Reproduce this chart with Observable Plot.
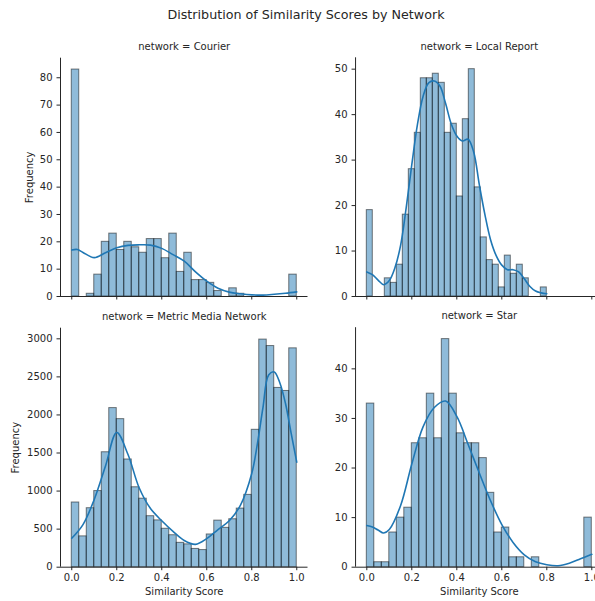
<!DOCTYPE html>
<html><head><meta charset="utf-8">
<script src="https://cdn.jsdelivr.net/npm/d3@7"></script>
<script src="https://cdn.jsdelivr.net/npm/@observablehq/plot@0.6"></script>
<style>
body{margin:0;background:#fff;}
#fig{position:relative;width:595px;height:601px;overflow:hidden;font-family:"DejaVu Sans",sans-serif;color:#262626;background:#fff;}
#title{position:absolute;left:0;width:612px;top:8px;line-height:14px;text-align:center;font-size:12.7px;white-space:nowrap;}
.panel{position:absolute;}
</style></head><body>
<div id="fig"><div id="title">Distribution of Similarity Scores by Network</div></div>
<script>
// ---- data ----
const networks = ["Courier", "Local Report", "Metric Media Network", "Star"];
const binCount = 30;
const courierRange = [0, 1];
const localReportRange = [0, 0.8];
const metricRange = [0, 1];
const starRange = [0, 1];

const courierCounts = [83,0,1,8,20,23,17,20,18,16,21,21,14,23,9,16,6,6,5,2,0,3,1,0,0,0,0,0,0,8];
const localReportCounts = [19,0,0,4,3,7,18,28,36,48,48,49,47,36,38,22,39,50,24,13,8,7,2,9,5,7,4,0,0,2];
const metricCounts = [850,405,775,1000,1510,2090,1945,1415,1050,900,670,615,505,420,320,300,240,225,430,612,517,630,770,950,1805,2990,2905,2355,2315,2875];
const starCounts = [33,1,1,7,10,12,25,26,35,26,46,35,27,25,25,22,15,7,8,2,2,0,2,0,0,0,0,0,0,10];

const courierKdeX = [0,0.025,0.05,0.1,0.15,0.2,0.25,0.3,0.35,0.4,0.45,0.5,0.55,0.6,0.65,0.7,0.75,0.8,0.85,0.9,0.95,1.0];
const courierKde  = [17.0,17.2,16.1,14.2,16.0,17.8,18.7,18.9,18.8,17.6,15.3,12.9,9.0,5.6,3.0,1.6,1.0,0.6,0.5,0.8,1.2,1.7];

const localReportKdeX = [0,0.025,0.05,0.075,0.1,0.125,0.15,0.175,0.2,0.225,0.25,0.275,0.3,0.325,0.35,0.375,0.4,0.425,0.45,0.475,0.5,0.525,0.55,0.575,0.6,0.625,0.65,0.675,0.7,0.725,0.75,0.775,0.8];
const localReportKde  = [5.4,4.8,3.6,2.6,3.5,6.3,11.2,19.5,29,37.8,44,47,47.4,46.3,42.5,38,35.3,34.2,34.6,31.8,24.6,18,12.5,9,6.9,5.9,5.9,5.4,3.9,2.2,1.2,0.8,0.6];

const metricKdeX = [0,0.05,0.1,0.15,0.2,0.25,0.3,0.35,0.4,0.45,0.5,0.55,0.6,0.65,0.7,0.75,0.8,0.825,0.85,0.875,0.9,0.925,0.95,0.975,1.0];
const metricKde  = [381,560,890,1330,1770,1480,1040,770,610,470,350,300,375,495,610,815,1230,1620,2100,2525,2565,2420,2150,1760,1380];

const starKdeX = [0,0.025,0.05,0.075,0.1,0.15,0.2,0.25,0.3,0.35,0.4,0.45,0.5,0.55,0.6,0.65,0.7,0.75,0.8,0.85,0.9,0.95,1.0];
const starKde  = [8.4,8.1,7.5,6.9,7.6,12.4,20.8,28.3,32.2,33.5,30.4,24.8,19.0,13.4,8.6,5.0,2.5,1.1,0.5,0.3,0.8,1.7,2.6];

const xTicks = [0, 0.2, 0.4, 0.6, 0.8, 1.0];
const xDomain = [-0.05, 1.05];
const courierYTicks = [0,10,20,30,40,50,60,70,80];
const localReportYTicks = [0,10,20,30,40,50];
const metricYTicks = [0,500,1000,1500,2000,2500,3000];
const starYTicks = [0,10,20,30,40];

const xLabel = "Similarity Score";
const yLabel = "Frequency";

// ---- drawing ----
const fig = document.getElementById("fig");
const blue = "#1f77b4";
const ink = "#262626";
const fs = 10;

function makeBins(counts, range) {
  const w = (range[1] - range[0]) / counts.length;
  return counts.map((c, i) => ({x1: range[0] + i * w, x2: range[0] + (i + 1) * w, count: c}));
}

function panel(o) {
  const bins = makeBins(o.counts, o.range);
  const kde = o.kdeX.map((x, i) => ({x, y: o.kdeY[i]}));
  const yTop = d3.max(o.counts) * 1.05;
  const marks = [
    Plot.rectY(bins, {x1: "x1", x2: "x2", y1: 0, y2: "count", fill: blue, fillOpacity: 0.5,
      stroke: "#000", strokeOpacity: 0.5, strokeWidth: 1}),
    Plot.line(kde, {x: "x", y: "y", stroke: blue, strokeWidth: 1.6, curve: "catmull-rom"}),
    Plot.ruleX([xDomain[0]], {stroke: ink, strokeWidth: 1}),
    Plot.ruleY([0], {stroke: ink, strokeWidth: 1}),
    Plot.axisX({ticks: xTicks, tickSize: 3.5, tickPadding: 3.5, label: null,
      tickFormat: o.xLabels ? (d => d.toFixed(1)) : (() => "")}),
    Plot.axisY({ticks: o.yTicks, tickSize: 3.5, tickPadding: 4.5, label: null, tickFormat: d3.format("d")}),
    Plot.text([`network = ${o.name}`], {text: d => d, frameAnchor: "top", lineAnchor: "middle", dy: -11.5, fill: ink, fontSize: fs})
  ];
  if (o.yLabel) marks.push(Plot.text([yLabel], {text: d => d, frameAnchor: "left", rotate: -90,
    textAnchor: "middle", lineAnchor: "middle", dx: o.yLabelDx, fill: ink, fontSize: fs}));
  if (o.xLabels) marks.push(Plot.text([xLabel], {text: d => d, frameAnchor: "bottom",
    lineAnchor: "middle", dy: 25, fill: ink, fontSize: fs}));
  const svg = Plot.plot({
    width: o.width, height: o.height,
    marginLeft: o.mL, marginRight: o.mR, marginTop: o.mT, marginBottom: o.mB,
    x: {domain: xDomain},
    y: {domain: [0, yTop]},
    style: {fontFamily: "DejaVu Sans, sans-serif", fontSize: fs + "px", color: ink,
      background: "none", overflow: "visible", maxWidth: "none"},
    marks
  });
  svg.classList.add("panel");
  svg.style.left = o.left + "px";
  svg.style.top = o.top + "px";
  fig.appendChild(svg);
}

panel({name: networks[0], counts: courierCounts, range: courierRange, kdeX: courierKdeX, kdeY: courierKde,
  yTicks: courierYTicks, left: 0, top: 25, width: 310, height: 280, mL: 60, mR: 2.5, mT: 32.7, mB: 9,
  xLabels: false, yLabel: true, yLabelDx: -31});
panel({name: networks[1], counts: localReportCounts, range: localReportRange, kdeX: localReportKdeX, kdeY: localReportKde,
  yTicks: localReportYTicks, left: 300, top: 25, width: 305, height: 280, mL: 55.05, mR: 2.45, mT: 32.3, mB: 9,
  xLabels: false, yLabel: false});
panel({name: networks[2], counts: metricCounts, range: metricRange, kdeX: metricKdeX, kdeY: metricKde,
  yTicks: metricYTicks, left: 0, top: 305, width: 310, height: 296, mL: 60, mR: 2.5, mT: 22.7, mB: 34.3,
  xLabels: true, yLabel: true, yLabelDx: -45});
panel({name: networks[3], counts: starCounts, range: starRange, kdeX: starKdeX, kdeY: starKde,
  yTicks: starYTicks, left: 300, top: 305, width: 305, height: 296, mL: 55.05, mR: 2.45, mT: 22.2, mB: 34.3,
  xLabels: true, yLabel: false});
</script>
</body></html>
